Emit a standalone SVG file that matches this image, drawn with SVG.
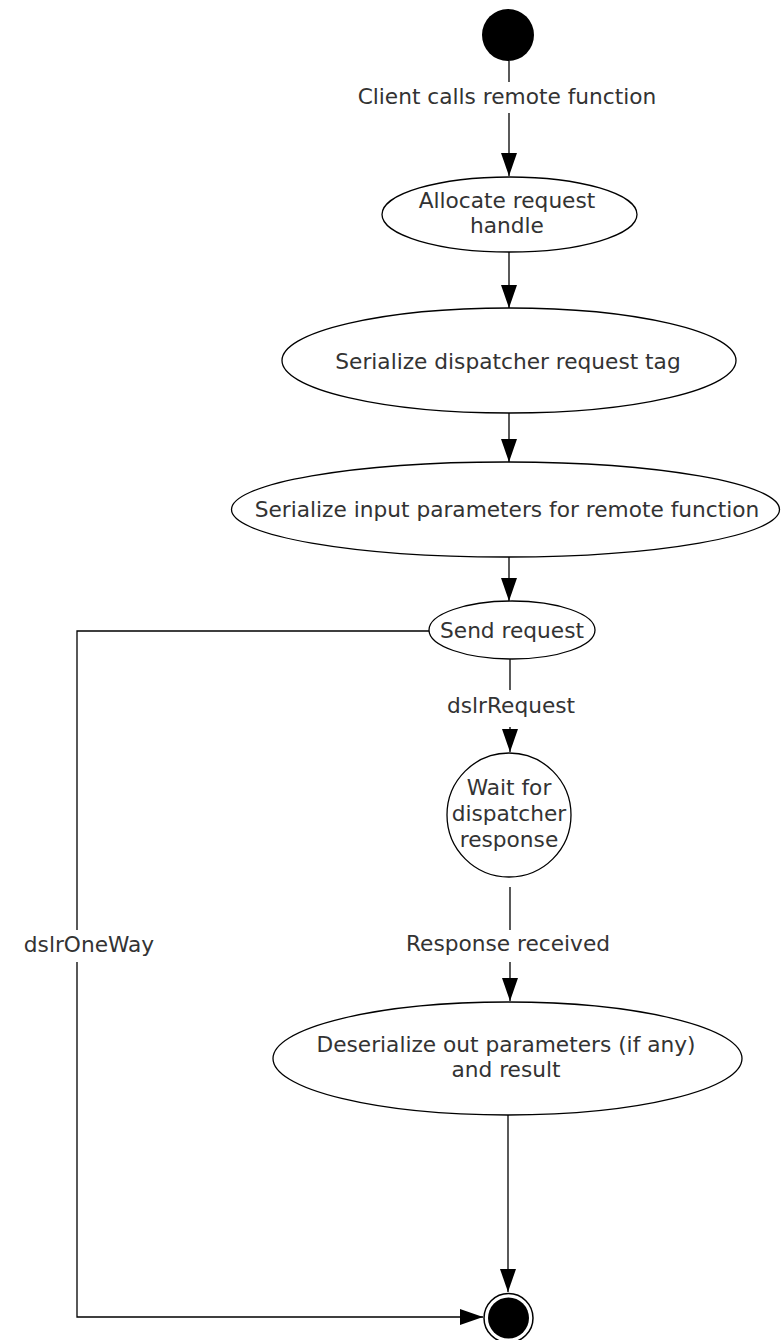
<svg xmlns="http://www.w3.org/2000/svg" width="783" height="1340" viewBox="0 0 783 1340">
  <style>
    .node { fill: #ffffff; stroke: #000000; stroke-width: 1.3; }
    .conn { fill: none; stroke: #000000; stroke-width: 1.3; }
    .t { font-family: "DejaVu Sans", Verdana, sans-serif; font-size: 21.7px; fill: #333333; text-anchor: middle; }
    .bg { fill: #ffffff; stroke: none; }
  </style>
  <defs>
    <marker id="arrow" markerUnits="userSpaceOnUse" viewBox="0 0 23 16" refX="23" refY="8" markerWidth="23" markerHeight="16" orient="auto">
      <path d="M0,0 L23,8 L0,16 Z" fill="#000000"/>
    </marker>
  </defs>
  <rect x="0" y="0" width="783" height="1340" fill="#ffffff"/>

  <g id="connectors">
    <path class="conn" d="M509,61 V176" marker-end="url(#arrow)"/>
    <path class="conn" d="M509,252 V308" marker-end="url(#arrow)"/>
    <path class="conn" d="M509,413 V462" marker-end="url(#arrow)"/>
    <path class="conn" d="M509,557 V601" marker-end="url(#arrow)"/>
    <path class="conn" d="M510,659 V752" marker-end="url(#arrow)"/>
    <path class="conn" d="M510,887 V1001" marker-end="url(#arrow)"/>
    <path class="conn" d="M508,1115 V1292" marker-end="url(#arrow)"/>
    <path class="conn" d="M429,631 H77 V1317 H483" marker-end="url(#arrow)"/>
    <g id="labels">
      <rect class="bg" x="345" y="82" width="325" height="31"/>
      <text class="t" x="507" y="104">Client calls remote function</text>
      <rect class="bg" x="440" y="690" width="140" height="37"/>
      <text class="t" x="511" y="713">dslrRequest</text>
      <rect class="bg" x="398" y="930" width="220" height="32"/>
      <text class="t" x="508" y="951">Response received</text>
      <rect class="bg" x="20" y="930" width="140" height="32"/>
      <text class="t" x="89" y="952">dslrOneWay</text>
    </g>
  </g>

  <g id="start">
    <circle cx="508" cy="35" r="26" fill="#000000"/>
  </g>

  <g id="allocate">
    <ellipse class="node" cx="509.5" cy="214.5" rx="127.5" ry="37.5"/>
    <text class="t" x="507" y="208">Allocate request</text>
    <text class="t" x="507" y="233">handle</text>
  </g>

  <g id="serialize-tag">
    <ellipse class="node" cx="509" cy="360.5" rx="227" ry="52.5"/>
    <text class="t" x="508" y="369">Serialize dispatcher request tag</text>
  </g>

  <g id="serialize-input">
    <ellipse class="node" cx="505.5" cy="509.5" rx="274" ry="47.5"/>
    <text class="t" x="507" y="517">Serialize input parameters for remote function</text>
  </g>

  <g id="send-request">
    <ellipse class="node" cx="512" cy="630" rx="83" ry="29"/>
    <text class="t" x="512" y="638">Send request</text>
  </g>

  <g id="wait">
    <circle class="node" cx="509" cy="815" r="62"/>
    <text class="t" x="509" y="795">Wait for</text>
    <text class="t" x="509" y="821">dispatcher</text>
    <text class="t" x="509" y="847">response</text>
  </g>

  <g id="deserialize">
    <ellipse class="node" cx="507.5" cy="1058.5" rx="234.5" ry="56.5"/>
    <text class="t" x="506" y="1052">Deserialize out parameters (if any)</text>
    <text class="t" x="506" y="1077">and result</text>
  </g>

  <g id="final">
    <circle cx="508.5" cy="1318" r="24.5" fill="#ffffff" stroke="#000000" stroke-width="1.5"/>
    <circle cx="508.5" cy="1318" r="20.5" fill="#000000"/>
  </g>
</svg>
